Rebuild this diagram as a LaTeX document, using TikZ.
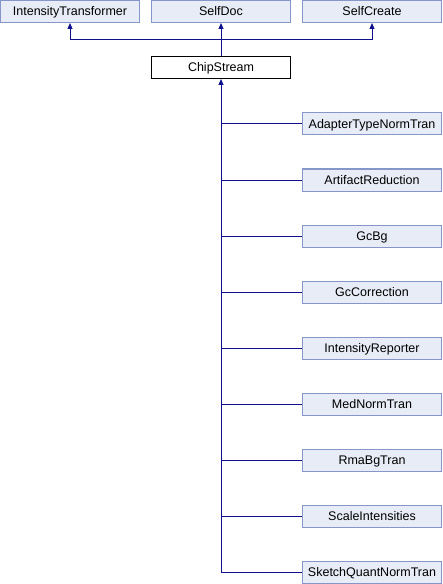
\documentclass[tikz,border=0pt]{standalone}
\usepackage{fontspec}
\setmainfont{Liberation Sans}
\usepackage{xcolor}
\usetikzlibrary{arrows.meta}
\definecolor{boxfill}{HTML}{E8ECF6}
\definecolor{boxline}{HTML}{8497C8}
\definecolor{edgeblue}{HTML}{10108C}

\begin{document}
\begin{tikzpicture}[x=1bp, y=-1bp,
  cls/.style={draw=boxline, fill=boxfill, line width=1bp, minimum width=139bp, minimum height=22bp, inner sep=0pt, text height=9bp, text depth=0pt, font=\fontsize{12.5bp}{14bp}\selectfont},
  cur/.style={cls, draw=black, fill=white},
  inh/.style={draw=edgeblue, line width=1bp, -{Triangle[length=6bp,width=5bp]}},
  link/.style={draw=edgeblue, line width=1bp}]
\useasboundingbox (0,0) rectangle (443,584);
\node[cls] (IntensityTransformer) at (70,11.5) {IntensityTransformer};
\node[cls] (SelfDoc) at (221,11.5) {SelfDoc};
\node[cls] (SelfCreate) at (372,11.5) {SelfCreate};
\node[cur] (ChipStream) at (221,67.5) {ChipStream};
\coordinate (Join) at (221,40);
\draw[inh] (ChipStream.north) -- (SelfDoc.south);
\draw[inh] (Join) -| (IntensityTransformer.south);
\draw[inh] (Join) -| (SelfCreate.south);
\foreach \name [count=\i] in {AdapterTypeNormTran,ArtifactReduction,GcBg,GcCorrection,IntensityReporter,MedNormTran,RmaBgTran,ScaleIntensities,SketchQuantNormTran}{
  \node[cls] (\name) at (372,68+56*\i) {\name};
  \draw[link] (ChipStream.south |- \name.west) -- (\name.west);
}
\draw[inh] (ChipStream.south |- SketchQuantNormTran.west) -- (ChipStream.south);
\end{tikzpicture}
\end{document}
